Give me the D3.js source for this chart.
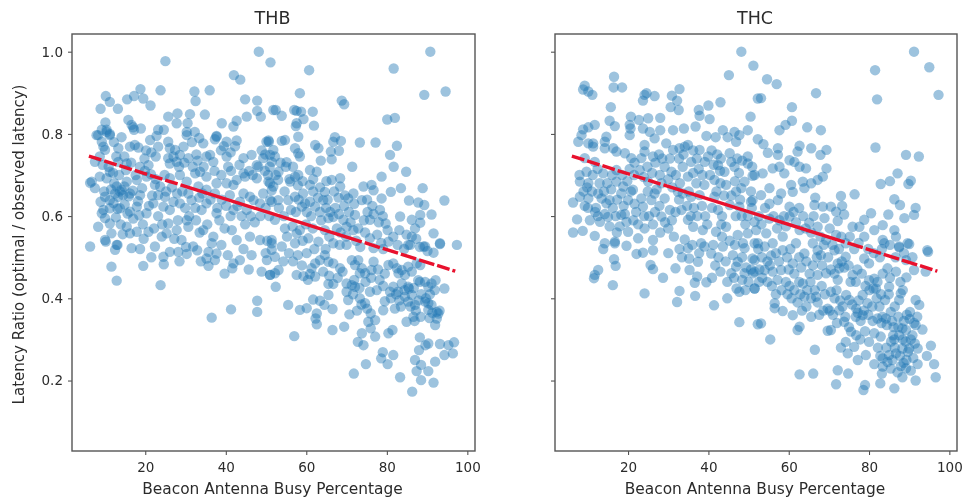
<!DOCTYPE html>
<html>
<head>
<meta charset="utf-8">
<title>Latency Ratio</title>
<script src="https://cdn.jsdelivr.net/npm/d3@7"></script>
<style>
  html, body { margin: 0; padding: 0; background: #fff; }
  svg { display: block; filter: blur(0.5px); }
  text { font-family: "DejaVu Sans", sans-serif; fill: #2b2b2b; }
</style>
</head>
<body>
<svg id="chart" width="963" height="502"></svg>
<script>
var panelTitles = ['THB', 'THC']
var xLabel = 'Beacon Antenna Busy Percentage'
var yLabel = 'Latency Ratio (optimal / observed latency)'
var xTicks = [20, 40, 60, 80, 100]
var yTicks = [0.2, 0.4, 0.6, 0.8, 1.0]

// busy percentage, latency ratio
var thbPoints = [
[25,.977],[48.2,1],[51.1,.974],[42,.943],[43.6,.932],[18.8,.909],[23.8,.906],[32.2,.903],[36,.906],[10.2,.892],[17.2,.892],[15.5,.884],[19.5,.886],[11.2,.878],[8.9,.861],[13.2,.861],[21.3,.869],[32.5,.88],[44.8,.884],[47.8,.881],[25.7,.842],[28,.85],[31.1,.848],[34.8,.847],[27.8,.826],[30.5,.826],[10.1,.828],[15.8,.834],[45.2,.842],[47.8,.856],[48.7,.842],[51.8,.858],[42.7,.832],[39,.826],[41.9,.818],[17,.816],[18.9,.813],[10.4,.81],[9.2,.81],[11.2,.8],[7.9,.797],[23.2,.81],[24.6,.81],[32.3,.805],[30.3,.797],[37.7,.793],
[10.4,.805],[11.2,.797],[9.2,.781],[8.3,.797],[14.1,.792],[16.6,.822],[17.2,.81],[10,.761],[9.6,.769],[13.3,.765],[16.2,.769],[17.4,.773],[18.3,.767],[21.2,.785],[23.2,.769],[25.7,.781],[26.1,.765],[27.4,.761],[29.5,.769],[34.4,.777],[37.7,.795],[37.3,.787],[40.2,.781],[42.7,.784],[50.1,.781],[50.6,.784],[51.8,.761],[46.4,.749],[44.4,.741],[30.3,.805],
[8.7,.745],[7.5,.732],[11.2,.708],[13.3,.732],[15.4,.728],[18.7,.72],[20.8,.724],[25.7,.741],[27,.745],[27.8,.732],[26.1,.728],[28.6,.749],[30.7,.741],[35.2,.745],[36.1,.749],[36.9,.732],[40.2,.745],[47.7,.724],[48.1,.72],[49.3,.741],[51.4,.732],[44.4,.704],[42.7,.688],[40.6,.72],[32.4,.704],[33.6,.708],[35.2,.696],
[6.7,.684],[7.5,.668],[8.7,.696],[6.3,.681],[10.4,.692],[12.9,.672],[14.1,.664],[15.4,.684],[17.9,.688],[20.3,.696],[22.4,.676],[23.7,.672],[26.1,.692],[28.6,.7],[30.3,.684],[33.2,.672],[35.2,.664],[37.7,.68],[40.2,.68],[41.9,.676],[44.8,.696],[47.7,.692],[50.6,.684],[51.8,.672],[49.3,.655],
[10,.647],[11.2,.639],[12.5,.655],[13.3,.647],[14.5,.651],[16.2,.655],[18.7,.651],[23.2,.651],[24.9,.647],[27,.635],[24.5,.623],[30.7,.655],[31.5,.639],[35.2,.631],[37.3,.655],[41,.651],[44.4,.655],[46,.647],[46.9,.639],[43.5,.635],[48.5,.631],[51.4,.635],[9.6,.615],[11.2,.619],[13.7,.619],[16.2,.611],[17.9,.623],[20.3,.607],[22,.631],[26.1,.615],[28.6,.631],[34,.615],[37.7,.607],[41.9,.615],[45.2,.615],
[9.2,.607],[10,.595],[8.3,.574],[11.2,.582],[15.4,.574],[16.2,.558],[17.9,.562],[20.8,.562],[11.6,.558],[10,.542],[12.9,.53],[24.1,.55],[25.7,.582],[27.8,.566],[30.3,.59],[30.7,.574],[34.4,.566],[36.9,.55],[36.5,.534],[41.5,.566],[42.7,.542],[46,.55],[48.5,.542],[51.4,.534],[29,.542],[31.9,.526],[25.3,.558],
[60.7,.955],[81.7,.959],[90.8,1],[58.4,.899],[68.8,.881],[69.4,.872],[89.3,.895],[94.6,.903],[52.4,.858],[53.9,.844],[57,.858],[57.6,.856],[58.7,.854],[61.6,.854],[59.3,.836],[57.6,.826],[57.4,.819],[61.9,.82],[80.1,.835],[82,.839],[58,.793],[67.1,.792],[66.7,.781],[68.6,.783],[73.3,.779],[77.2,.779],[82.5,.771],[54.7,.785],[53.9,.783],[50.7,.781],[62.2,.773],[63,.765],[68.1,.759],[66.1,.757],[57.2,.765],[58,.753],[58.4,.745],[80.8,.749],[52.2,.745],[51,.749],[55.1,.731],[63.6,.735],[66.3,.738],[71.4,.72],[81.7,.72],[84.8,.708],[78.7,.696],[60.9,.712],[62.6,.708],[53.1,.708],[58,.7],[57.2,.696],[56,.684],[66.3,.688],[68.4,.692],[68.4,.672],[74.2,.672],[76.2,.676],[76.7,.663],[81,.659],[83.5,.668],[88.9,.668],[64.6,.659],[60.9,.676],[51,.68],[53,.688],[51.4,.663],[70.4,.643],[73.8,.639],[71.7,.655],[78.7,.643],[85.5,.638],[87.8,.633],[89.3,.627],[94.3,.638],[59.7,.631],[60.9,.635],[58.9,.623],[62.2,.623],[64.2,.639],[55.5,.639],[53,.639],[51,.639],[57.2,.647],
[78.3,.615],[76.7,.605],[75.8,.591],[72.1,.603],[66.7,.598],[65.5,.595],[69.2,.591],[83.3,.599],[83.1,.566],[86.2,.591],[88.3,.603],[91.1,.604],[88.3,.584],[87,.57],[79.7,.582],[80.2,.566],[91.6,.558],[86.2,.55],[93.2,.534],[97.4,.53],[85.3,.53],[89.1,.526],[80.4,.538],[75.8,.546],[71.7,.566],[70,.574],[64.6,.566],[58.4,.566],[57.6,.558],[63,.538],[66.7,.534],[60.5,.546],[54.7,.57],[52.2,.591],[53.9,.526],[57.2,.534],[51.4,.542],
[51.4,.518],[60.1,.51],[70,.53],[76.7,.522],[85.8,.53],[89.5,.526],[91.6,.511],[93.2,.532],[52.2,.461],[53.1,.469],[51,.457],[50.2,.493],[52.2,.501],[57.6,.457],[59.3,.454],[60.9,.459],[62.2,.453],[52.4,.428],[55.5,.384],[58.4,.372],[60.1,.376],[57,.308],[61.7,.397],[63.4,.394],[64.5,.384],[66.5,.374],[62.6,.363],[62.3,.351],[62.6,.337],[66.5,.323],[69.4,.331],[70.7,.361],[65.5,.435],[66.7,.435],[65.5,.408],[70,.436],[71.3,.432],[72.1,.428],[70,.416],[70.4,.396],[73.3,.4],[74.6,.388],[75.8,.416],[76,.363],[75.4,.343],[77.1,.347],[76,.327],[73.8,.315],[72.8,.294],[74.2,.286],[77.1,.307],[80.4,.315],[81.4,.323],[79.1,.371],[79.5,.393],[80.8,.416],[81.6,.428],[83.7,.436],[85.3,.428],[86.2,.408],[84.5,.404],[82,.375],[84.9,.343],[86.6,.355],[85.3,.392],[87,.384],[90.3,.388],[90.3,.372],[92.4,.367],[92,.335],[92.4,.351],[94.3,.424],[92.1,.444],[90.3,.428],[88.2,.44],[88.2,.305],[89.6,.286],[90.3,.29],[88,.274],[93.2,.289],[95.3,.286],[96.7,.293],[96.4,.266],[94.3,.262],[92,.246],[90.3,.223],[91.6,.195],[87,.25],[88.5,.238],[87.4,.223],[88.5,.201],[86.3,.173],[83.3,.208],[81.6,.262],[79,.269],[78.6,.254],[80.2,.24],[74.8,.24],[71.8,.217],
[72.9,.493],[71.3,.493],[72.1,.481],[73.8,.473],[73.3,.461],[74.6,.461],[76.2,.469],[76.7,.489],[61.3,.473],[63.4,.493],[64.6,.505],[65.5,.489],[66.7,.485],[62.2,.485],[68.4,.473],[80.4,.481],[81.6,.485],[82.5,.473],[83.7,.469],[85.3,.477],[86.2,.465],[87.4,.485],[82.9,.461],[84.5,.457],[88.3,.481],[87.8,.444],[89.5,.44],[91.1,.436],[82.8,.416],[84.4,.42],[85.5,.424],[89.5,.392],[91.1,.384],[92.8,.363],
[6.3,.526],[10.2,.538],[12.5,.518],[13.1,.53],[16.6,.522],[11.6,.477],[12.9,.443],[19.5,.479],[22.4,.526],[24.5,.501],[24.6,.483],[23.8,.432],[26.1,.513],[28.2,.513],[30.3,.508],[32.9,.517],[35.7,.513],[35.2,.497],[35.7,.479],[37.3,.493],[37.7,.509],[41.9,.485],[41.6,.473],[48.9,.465],[51,.457],[47.8,.394],[47.8,.367],[41.3,.373],[36.5,.353],[43.5,.493],[46.4,.505],
[11.5,.665],[12.3,.68],[13.7,.66],[14.8,.672],[15.9,.648],[16.9,.662],[18.2,.636],[19.2,.668],[12.1,.632],[13.1,.618],[14.9,.628],[15.6,.606],[17,.594],[18.5,.602],[19.4,.58],[20.9,.625],[21.7,.65],[12.7,.597],[13.9,.58],[14.4,.556],[9.8,.66],[8.9,.635],[10.9,.72],[12,.705],[9.4,.725],[13.5,.7],[15.2,.712],[16.5,.73],[17.6,.7],[19.9,.71],[21.4,.702],[22.6,.69],[24.8,.7],[25.2,.66],[26.6,.67],[27.9,.655],[29.2,.66],[29.9,.62],[30.9,.6],[32.4,.62],[33.4,.645],[34.2,.655],[36.2,.64],[37.9,.62],[39,.64],[40.1,.625],[41.2,.6],[42.9,.625],[43.9,.6],[44.8,.58],[46.2,.6],[47.2,.585],[48.6,.6],[49.9,.62],[50.8,.6],[38.4,.59],[39.7,.57],[32.6,.59],[33.5,.56],[35.4,.58],[28.1,.59],[23.2,.6],[24.2,.58],[22.2,.57],[19.6,.545],[18.7,.52],[21.5,.5],[27.2,.545],[28.5,.49],[30.1,.525],[33.8,.49],[38.9,.53],[40.5,.505],[39.7,.46],[44.4,.52],[45.7,.47],[49.9,.51],[50.3,.54],
[21.5,.755],[22.6,.745],[28.4,.72],[29.7,.73],[31.8,.72],[33,.735],[34.5,.72],[37.2,.71],[38.9,.7],[41.3,.71],[43.4,.725],[45.8,.71],[46.7,.7],[49.7,.71],[50.5,.7],[48.9,.76],[49.8,.75],[38.8,.76],[39.5,.77],[41.2,.755],[42.3,.77],[31.6,.78],[32.7,.75],[33.4,.79],[22.8,.795],[19.8,.74],[14.8,.745],[12.2,.78],[20.2,.76],[12.8,.745],
[53.2,.62],[54.4,.6],[56.2,.615],[57.4,.61],[58.1,.64],[59.2,.655],[60.1,.61],[61.2,.6],[62.9,.645],[61.7,.66],[63.4,.61],[64.9,.62],[65.3,.64],[65.9,.61],[67.2,.62],[68.1,.605],[69.4,.625],[70.6,.61],[71,.585],[72.9,.57],[74.3,.59],[75.2,.61],[76.4,.625],[78,.585],[79,.6],[59.9,.58],[61.6,.57],[63.7,.59],[67.6,.57],[68.5,.56],[55.2,.55],[56.6,.575],[59.1,.54],[62,.52],[64.8,.52],[65.7,.55],[68.3,.53],[69.9,.55],[72.4,.54],[73.4,.525],[74.6,.56],[77.6,.555],[78.6,.535],[79.1,.52],[81.6,.55],[82.7,.53],[84.3,.52],[84.9,.555],[87.3,.545],[88.2,.525],[90.1,.515],[55.7,.51],[54.3,.49],[56.7,.49],[57.9,.505],[58.9,.48],[60.4,.445],[64.2,.465],[65.7,.455],[67.8,.45],[69,.465],[71.9,.445],[74.7,.44],[76.1,.45],[77.8,.47],[78.2,.445],[79.5,.46],[77.5,.42],[73.2,.425],[71.6,.41],[73.7,.385],[75.1,.375],[72.6,.37],[79.1,.43],[81,.4],[82.3,.41],[83.1,.395],[83.5,.38],[85.9,.38],[87.2,.37],[88.4,.355],[89.7,.4],[88.6,.41],[90.7,.41],[91.9,.42],[86.7,.425],[87.9,.395],[86.9,.345],[91.3,.365],[90.6,.352],[93.1,.37],
[52.4,.7],[54.6,.66],[55.8,.69],[57.9,.675],[59.1,.685],[61.7,.69],[63.4,.67],[65,.685],[66.9,.66],[68,.645],[69.6,.65],[71.9,.63],[75.1,.64],[53.6,.73],[54.9,.72],[56.7,.72],[50.9,.72]
]

var thcPoints = [
[48.2,1],[51.2,.966],[45.1,.943],[16.5,.939],[9.2,.917],[8.8,.908],[11.1,.895],[10.1,.903],[16.4,.913],[18.5,.913],[24.6,.899],[24.1,.895],[26.6,.892],[23.7,.881],[32.8,.909],[30.9,.893],[32.2,.881],[30.6,.865],[32.6,.858],[15.7,.865],[37.6,.858],[37.8,.844],[40.3,.836],[40,.869],[43,.877],[52.3,.886],[50.5,.842],[20.7,.842],[22.7,.834],[25,.838],[28,.839],[15.4,.832],[16.7,.819],[20.4,.822],[20.6,.813],[20.4,.797],[11.7,.822],[10.1,.816],[8.8,.811],[8.4,.797],[7.6,.781],[11.3,.777],[10.1,.777],[14.6,.793],[14.2,.781],[23.7,.813],[25.4,.805],[28,.809],[31.2,.809],[33.9,.813],[36.8,.818],[39.5,.795],[41.8,.792],[43.6,.809],[46.5,.805],[47.7,.797],[49.8,.809],[52.3,.787],[46.9,.781],[44.8,.792],
[24.1,.773],[26.6,.789],[29.5,.777],[31.2,.761],[34.9,.773],[34.1,.769],[32.8,.765],[37.8,.761],[17.1,.757],[16.3,.765],[11.3,.769],[9.2,.741],[11.7,.732],[14.2,.765],[19.2,.753],[20.8,.741],[23.3,.741],[26.2,.745],[24.1,.757],[35.7,.732],[39.1,.732],[39.9,.745],[42.4,.724],[45.3,.753],[46.5,.72],[45.7,.732],[44,.708],[49.8,.745],[49.8,.728],[51.5,.7],[49,.684],[8,.684],[10.1,.68],[9.65,.708],[13.8,.704],[17.1,.712],[22.9,.712],[27.9,.7],[29.1,.72],[30.8,.708],[34.9,.696],[37,.68],[39,.676],[41.5,.688],[44.4,.676],[18.8,.672],[17.1,.684],[21.2,.664],[25,.684],[28.3,.68],[32.4,.659],
[6.3,.633],[8,.647],[10.1,.643],[12.55,.655],[14.6,.631],[13.4,.643],[15.4,.639],[18.3,.655],[20,.639],[23.3,.643],[26.6,.655],[23.7,.623],[25.8,.639],[30.4,.615],[29.1,.643],[33.3,.615],[35.7,.647],[37.8,.651],[41.5,.647],[42.4,.615],[48.2,.668],[50.6,.635],[47.7,.623],[45.3,.627],[7.3,.592],[6.3,.56],[8.7,.564],[10.5,.59],[13,.586],[11.7,.552],[15,.598],[18.3,.603],[19.6,.586],[20,.562],[16.7,.538],[14.2,.534],[22.5,.546],[24.1,.57],[26.2,.542],[30,.57],[28.3,.599],[34.1,.543],[36.2,.574],[38.6,.566],[41.9,.562],[34.9,.591],[38.2,.534],[47.3,.554],[44.4,.574],[49.8,.558],[48.6,.534],[51.5,.586],[52.3,.534],
[91.2,1],[95,.962],[97.3,.895],[81.5,.955],[82,.884],[54.6,.933],[57,.921],[66.8,.899],[53.1,.887],[60.8,.865],[60.8,.832],[59.2,.822],[57.7,.809],[64.6,.816],[68,.809],[53.7,.775],[54.8,.754],[57.3,.765],[57.3,.749],[62.7,.771],[62.2,.757],[65.6,.765],[69.4,.761],[67.9,.749],[81.6,.767],[89.2,.749],[92.4,.745],[61.4,.732],[60.2,.736],[62.7,.72],[69.4,.716],[64.3,.716],[57.7,.72],[56,.716],[53.5,.704],[58.9,.704],[51,.698],[68.5,.696],[67.2,.688],[65.6,.68],[63.5,.684],[63.9,.668],[87.1,.704],[85.2,.685],[82.9,.678],[90.4,.686],[89.8,.678],[76.4,.653],[73,.649],[66.6,.645],[55.2,.668],[58.1,.655],[60.6,.676],[61,.659],[51,.639],[53.1,.651],[68.5,.623],[66.4,.627],[70.5,.623],[73.3,.625],[71.8,.611],[73.8,.604],[72.2,.588],[68.9,.595],[65.1,.584],[67.2,.574],[86.3,.641],[87.7,.627],[91.6,.62],[91.2,.603],[88.8,.595],[84.8,.604],[80.5,.607],[78.8,.591],[75.9,.574],[77.6,.574],[83.4,.578],[86.3,.566],[81.3,.566],[83.4,.542],[78.8,.55],[86.7,.55],[89.6,.534],[87.5,.526],[94.5,.517],[60.2,.623],[57.3,.639],[60.2,.599],[57.7,.59],[55.2,.594],[62.7,.566],[61.8,.534],[58.5,.55],[54.4,.558],[51.9,.566],[51.5,.534],[56,.534],[66,.534],[69.3,.542],[71.8,.554],[74.2,.534],
[12.55,.469],[11.7,.457],[11.5,.449],[16.5,.495],[16.9,.479],[16.2,.432],[24.1,.412],[13.8,.52],[16.7,.534],[19.6,.528],[22.1,.508],[23.7,.511],[26.2,.517],[30,.51],[25.6,.481],[26.2,.471],[28.7,.45],[31.8,.473],[34.9,.522],[35.2,.497],[37.4,.489],[35.3,.469],[37.2,.453],[36.6,.438],[39.5,.439],[32.8,.418],[32.2,.391],[36.7,.406],[41.4,.383],[41.7,.48],[44.7,.4],[47.7,.342],[52.3,.337],[44.7,.44],[45.7,.461],[47.3,.489],[47,.424],[47.7,.416],[49,.461],[50,.44],[51.5,.424],[51.5,.465],[46.9,.477],[51,.497],[39,.526],[40.7,.509],[43.6,.526],[46.1,.505],[49,.522],
[53.1,.339],[55.4,.3],[66.5,.275],[62.7,.215],[66.1,.217],[72.2,.225],[74.8,.217],[71.8,.191],[78.6,.177],[79,.189],[82.8,.193],[86.3,.181],[88.3,.208],[91.6,.2],[96.6,.208],[96.2,.24],[94.4,.26],[95.4,.285],[92.1,.278],[92.1,.24],[90.4,.224],[87.1,.22],[85.4,.229],[83.2,.217],[83.4,.234],[81.3,.24],[83.4,.254],[85,.262],[86.7,.266],[88.3,.278],[90,.278],[88.6,.243],[79.2,.262],[77.2,.25],[74.7,.266],[73,.28],[76.3,.282],[74.2,.294],[80,.294],[82.9,.307],[81.3,.315],[86.3,.3],[87.5,.31],[89.2,.323],[88.3,.327],[91.6,.335],[93.3,.324],[92.5,.384],[91.6,.396],[90.2,.367],[87.5,.396],[87.9,.412],[85,.428],[81.3,.448],[81.7,.424],[85.4,.367],[84.2,.351],[82.1,.351],[84,.396],[79.6,.388],[78.4,.408],[78.4,.359],[76.7,.355],[75.1,.396],[74.3,.408],[75.5,.319],[73.8,.343],[70.5,.323],[69.7,.321],[69.7,.375],[70.5,.416],[72.6,.371],[65.6,.355],[65.6,.4],[63.9,.404],[66.8,.404],[62.7,.331],[62.2,.323],[61,.359],[58.5,.369],[56.5,.388],[51.5,.424],[52.6,.44],[51.1,.461],[54,.469],[56,.465],[58.1,.469],[59.3,.44],[63.5,.436],[67.2,.457],[69.3,.461],[72.6,.473],[72.2,.445],[76.7,.44],[80,.444],[81.1,.424],[84.6,.473],[86.7,.465],[89.3,.451],[91.2,.469],[94.1,.465],[94.7,.513],[87.5,.524],[90,.532],[83.8,.534],[80,.485],[78.8,.497],[74.2,.501],[75.9,.457],[72.2,.485],[67.2,.517],[71.4,.517],[68,.505],[63.9,.509],[61,.485],[58.5,.517],[55.6,.504],[54,.526],[51.5,.493],[89.2,.493],
[7.9,.7],[8.9,.66],[9.2,.625],[11,.66],[12,.62],[12.9,.68],[14,.66],[15.8,.665],[16.2,.62],[17.3,.64],[16.9,.6],[18.9,.625],[19.2,.605],[20.7,.66],[21.6,.63],[22,.61],[22.5,.58],[21.3,.59],[17.9,.575],[17.2,.56],[15.4,.575],[14.2,.605],[12.5,.6],[11.8,.61],[10,.62],[9.8,.67],[11.2,.7],[12.4,.715],[14.8,.68],[16,.7],[18.5,.7],[19.8,.685],[20.4,.715],[21.6,.73],[23.9,.695],[24.8,.72],[24.9,.66],[26,.705],[27.1,.665],[27.8,.625],[26.7,.61],[25.2,.6],[24,.6],[26.2,.58],[28,.56],[29.2,.585],[30.9,.59],[31.8,.61],[32.7,.64],[33.6,.655],[34.7,.625],[35.6,.6],[36.4,.62],[37.2,.6],[38.4,.625],[39.2,.6],[39.7,.58],[40.9,.62],[43.4,.6],[43.2,.58],[42,.66],[43,.68],[43.9,.65],[45.7,.65],[46.9,.66],[47.9,.64],[46.8,.6],[48.3,.6],[49.8,.6],[49.2,.58],[50.8,.62],[31,.67],[30,.69],[31.9,.7],[32.9,.68],[33.6,.72],[35.1,.66],[36.2,.705],[37.6,.715],[38.5,.7],[40.4,.7],[41.3,.725],[42.9,.71],[46.6,.685],[47.6,.705],[48.4,.735],[50.6,.66],[50.9,.72],[21.5,.7],[26.8,.73],[27.7,.75],[28.5,.74],[30.4,.74],[32.7,.74],[33.8,.75],[37.1,.74],[36.2,.76],[40.8,.76],[42.2,.75],[43.1,.74],[47.2,.74],
[31.4,.55],[32.8,.52],[33.4,.5],[36,.53],[37.7,.51],[41.2,.53],[42.5,.5],[43.4,.55],[45.3,.54],[46.6,.53],[44.3,.49],[43,.465],[48.4,.5],[49.4,.475],[50.6,.47],[52.7,.47],[48.4,.445],[49.2,.42],[46.4,.45],[40.9,.45],
[52.6,.6],[53.2,.58],[54.1,.62],[55.2,.63],[56.2,.6],[57.1,.57],[58.8,.6],[59.3,.575],[61.2,.61],[61.8,.585],[62.6,.62],[63.6,.6],[64.2,.57],[65.6,.56],[66.2,.6],[67.9,.55],[68.7,.53],[70.2,.57],[70.9,.53],[72.5,.52],[73.1,.55],[75.2,.55],[76.3,.52],[77.4,.535],[79.8,.52],[81.2,.51],[82.7,.5],[83.2,.52],[85.2,.53],[86.6,.5],[88.7,.51],[90.8,.5],
[52.4,.52],[53.3,.5],[54.7,.49],[55.3,.48],[56.8,.51],[57.6,.49],[59.6,.5],[60.4,.52],[60,.47],[61.4,.46],[62.6,.5],[63.1,.475],[64.4,.49],[65.2,.46],[66,.48],[67,.5],[68.3,.48],[69.8,.5],[70.5,.47],[71.4,.46],[73.2,.49],[73.8,.475],[74.9,.48],[75.4,.44],[77.1,.47],[78.2,.46],[79.1,.43],[80.1,.42],[82.1,.44],[83.4,.46],[85.2,.45],[87.8,.44],[88.4,.42],
[53.4,.45],[54.7,.44],[55.8,.43],[57.2,.445],[60.2,.43],[61.4,.42],[62.6,.44],[62.9,.41],[64.6,.42],[65.4,.44],[66.5,.42],[67.2,.39],[68.2,.43],[69,.41],[71.4,.4],[71.9,.42],[72.8,.395],[73.4,.38],[75.8,.385],[76.8,.375],[77.4,.395],[77.2,.365],[77.9,.345],[78.7,.37],[79.8,.36],[80.8,.38],[81.9,.4],[82.6,.38],[83.3,.355],[83.1,.34],[84.4,.335],[85.7,.345],[86.4,.38],[83,.41],[84.9,.41],[86.1,.33],[87.3,.355],[88.7,.345],[89.4,.36],[90.1,.35],[91.2,.34],[92,.355],[86,.31],[87.3,.33],[88.4,.3],[89.1,.295],[90.8,.31],[91.4,.29],[89.7,.27],[87.7,.26],[86.4,.28],[85.5,.295],[84.3,.28],[82.2,.28],[82.8,.26],[84.6,.245],[85.8,.25],[87.9,.235],[89.2,.23],[91,.255],[90.4,.3],[89.3,.25],[80.9,.345],[79,.32],[77.8,.3],[76.8,.31],[75,.33],[74.1,.355],[72,.34],[71,.36],[70.2,.37],[68.6,.37],[67.6,.36],[64.4,.38],[63.3,.37],[62.2,.39],[60.7,.4],[59.7,.41],[58.2,.42],[56.8,.41],[56.5,.376]
]

// fitted line, both panels
var fitBusy = [6, 97]
var fitRatio = [0.746, 0.466]

var xDomain = [1.8, 101.9]
var yDomain = [0.0286, 1.043]

var svg = d3.select('#chart')

function drawPanel(title, points, left, width, showY) {
  var top = 34
  var bottom = 451

  var x = d3.scaleLinear().domain(xDomain).range([left, left + width])
  var y = d3.scaleLinear().domain(yDomain).range([bottom, top])

  var g = svg.append('g')

  g.append('g')
    .selectAll('circle')
    .data(points)
    .join('circle')
    .attr('cx', function(d) { return x(d[0]) })
    .attr('cy', function(d) { return y(d[1]) })
    .attr('r', 5.2)
    .attr('fill', '#1f77b4')
    .attr('fill-opacity', 0.44)

  // dashes run together in the middle of the line, as in the original
  var line = d3.line()
    .x(function(d) { return x(d[0]) })
    .y(function(d) { return y(d[1]) })

  g.append('path')
    .attr('d', line(d3.zip(fitBusy, fitRatio)))
    .attr('fill', 'none')
    .attr('stroke', '#e8112d')
    .attr('stroke-width', 3.4)
    .attr('stroke-dasharray', '13 3 13 3 13 3 13 3 13 3 13 3 190 3 16 3 16 3 16 3 16 3')

  var xAxis = d3.axisBottom(x).tickValues(xTicks).tickFormat(d3.format('d')).tickSize(4).tickSizeOuter(0).tickPadding(7)
  var yAxis = d3.axisLeft(y).tickValues(yTicks).tickSize(4).tickSizeOuter(0).tickPadding(5)
  if (showY) yAxis.tickFormat(d3.format('.1f'))
  else yAxis.tickFormat('')

  var gx = g.append('g').attr('transform', 'translate(0,' + bottom + ')').call(xAxis)
  var gy = g.append('g').attr('transform', 'translate(' + left + ',0)').call(yAxis)

  gx.selectAll('.domain').remove()
  gy.selectAll('.domain').remove()
  gx.selectAll('line').attr('stroke', '#444').attr('stroke-width', 1)
  gy.selectAll('line').attr('stroke', '#444').attr('stroke-width', 1)
  gx.selectAll('text').attr('font-size', 13.5).attr('fill', '#333')
  gy.selectAll('text').attr('font-size', 13.5).attr('fill', '#333')

  g.append('rect')
    .attr('x', left)
    .attr('y', top)
    .attr('width', width)
    .attr('height', bottom - top)
    .attr('fill', 'none')
    .attr('stroke', '#555')
    .attr('stroke-width', 1.4)

  g.append('text')
    .attr('x', left + width / 2 - 1)
    .attr('y', 24)
    .attr('text-anchor', 'middle')
    .attr('font-size', 17.5)
    .text(title)

  g.append('text')
    .attr('x', left + width / 2 - 1)
    .attr('y', 494)
    .attr('text-anchor', 'middle')
    .attr('font-size', 15.4)
    .text(xLabel)
}

drawPanel(panelTitles[0], thbPoints, 72, 403, true)
drawPanel(panelTitles[1], thcPoints, 555, 402, false)

svg.append('text')
  .attr('transform', 'translate(24,244.5) rotate(-90)')
  .attr('text-anchor', 'middle')
  .attr('font-size', 15)
  .text(yLabel)
</script>
</body>
</html>
